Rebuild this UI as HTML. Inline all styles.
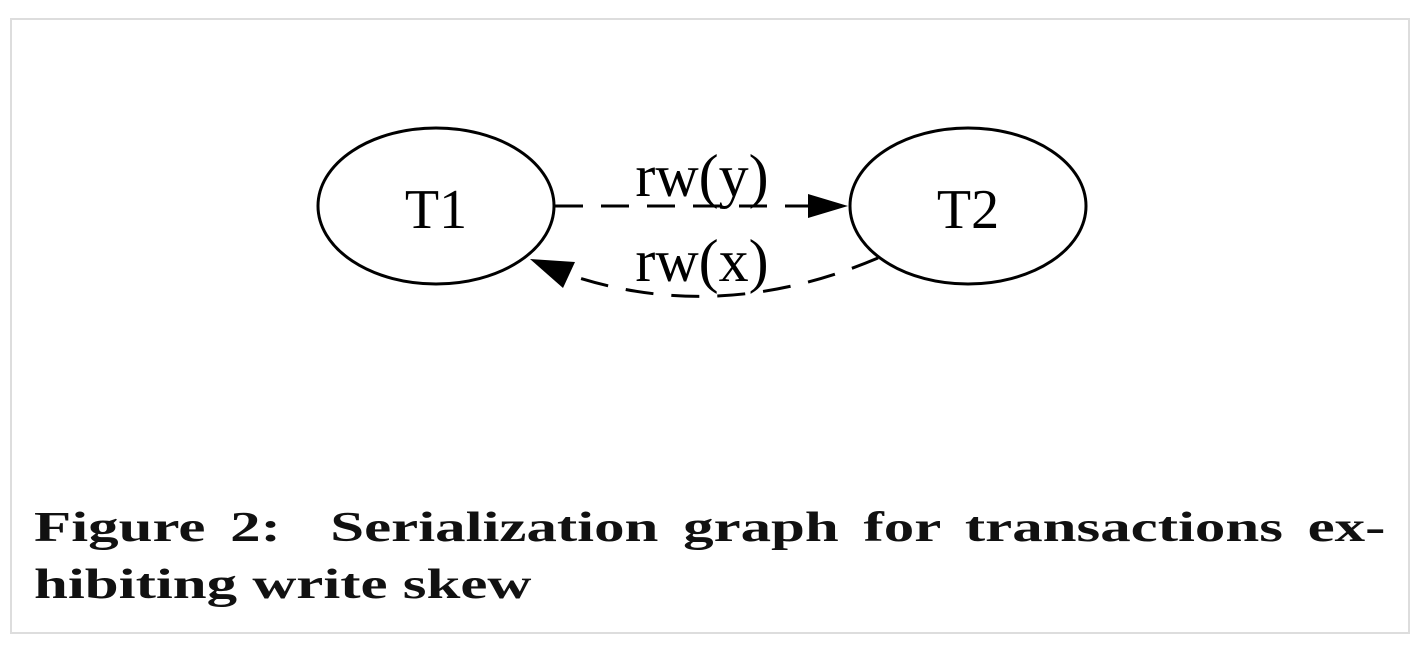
<!DOCTYPE html>
<html><head><meta charset="utf-8"><style>
html,body{margin:0;padding:0;background:#fff;width:1420px;height:654px;overflow:hidden}
.box{position:absolute;left:10px;top:18px;width:1396px;height:612px;border:2px solid #ddd}
.cap{position:absolute;left:34px;width:932px;font-family:"Liberation Serif",serif;font-weight:bold;font-size:42px;color:#111;white-space:nowrap;transform:scaleX(1.45);transform-origin:0 0}
</style></head><body>
<div class="box"></div>
<svg width="1420" height="654" style="position:absolute;left:0;top:0">
<g fill="none" stroke="#000" stroke-width="3">
<ellipse cx="436" cy="206" rx="118" ry="78"/>
<ellipse cx="968" cy="206" rx="118" ry="78"/>
<path d="M555 206 L810 206" stroke-dasharray="28 18"/>
<path d="M878 258 Q720 325 570 275" stroke-dasharray="28 18"/>
</g>
<polygon points="848,206 808,194 808,218" fill="#000"/>
<polygon points="530,259 575,262 563,288" fill="#000"/>
<g font-family="Liberation Serif,serif" font-size="56" text-anchor="middle" fill="#000">
<text x="436" y="228">T1</text>
<text x="968" y="228">T2</text>
<text x="702" y="196" font-size="60">rw(y)</text>
<text x="702" y="281" font-size="60">rw(x)</text>
</g>
</svg>
<div class="cap" style="top:504px;text-align:justify;text-align-last:justify">Figure 2:&nbsp; Serialization graph for transactions ex-</div>
<div class="cap" style="top:561px">hibiting write skew</div>
</body></html>
